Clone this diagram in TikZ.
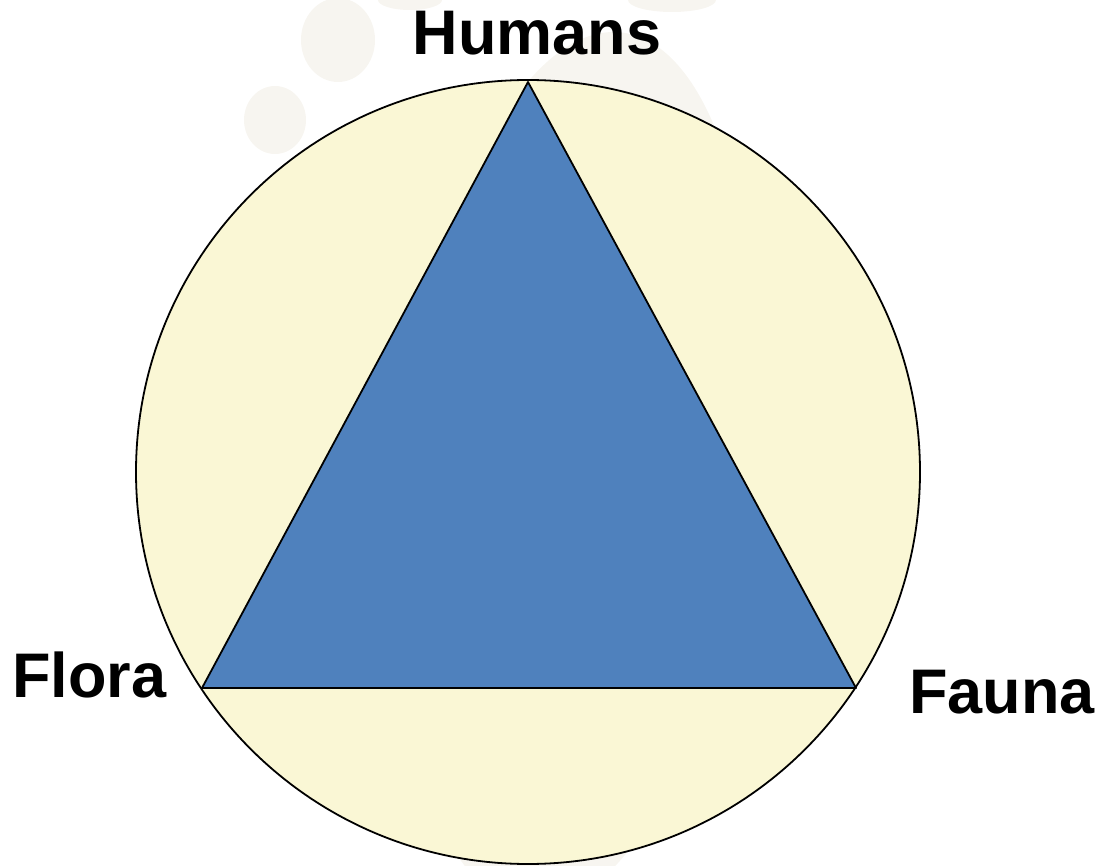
\documentclass[tikz,border=0pt]{standalone}
\usepackage{fontspec}
\setmainfont{Liberation Sans}
\definecolor{tri}{HTML}{4F81BD}
\definecolor{disc}{HTML}{FAF7D5}
\definecolor{wm}{HTML}{F7F5F0}
\begin{document}
\begin{tikzpicture}[x=1pt,y=-1pt,
  lab/.style={font=\fontsize{63}{70}\selectfont\bfseries, inner sep=0pt},
  edge/.style={draw=black, line width=1.8pt, line join=round}]
\useasboundingbox (0,0) rectangle (1101,866);
% watermark footprint
\fill[wm, rotate around={-6:(575,470)}] (575,470) ellipse [x radius=175, y radius=440];
\fill[wm] (338,40) ellipse [x radius=37, y radius=42];
\fill[wm] (275,120) ellipse [x radius=31, y radius=34];
\fill[wm] (410,0) ellipse [x radius=32, y radius=10];
\fill[wm] (672,0) ellipse [x radius=44, y radius=12];
% circle
\node[circle, minimum size=784pt, inner sep=0pt, fill=disc, draw=black, line width=1.8pt] (c) at (528,472) {};
% triangle vertices
\coordinate (h) at (528,82);
\coordinate (fl) at (202,688);
\coordinate (fa) at (856,688);
\filldraw[fill=tri, edge] (h) -- (fl) -- (fa) -- cycle;
% labels
\node[lab, anchor=base] (th) at (537,55) {Humans};
\node[lab, anchor=base west] (tfl) at (12,697) {Flora};
\node[lab, anchor=base west] (tfa) at (909,713) {Fauna};
\end{tikzpicture}
\end{document}
